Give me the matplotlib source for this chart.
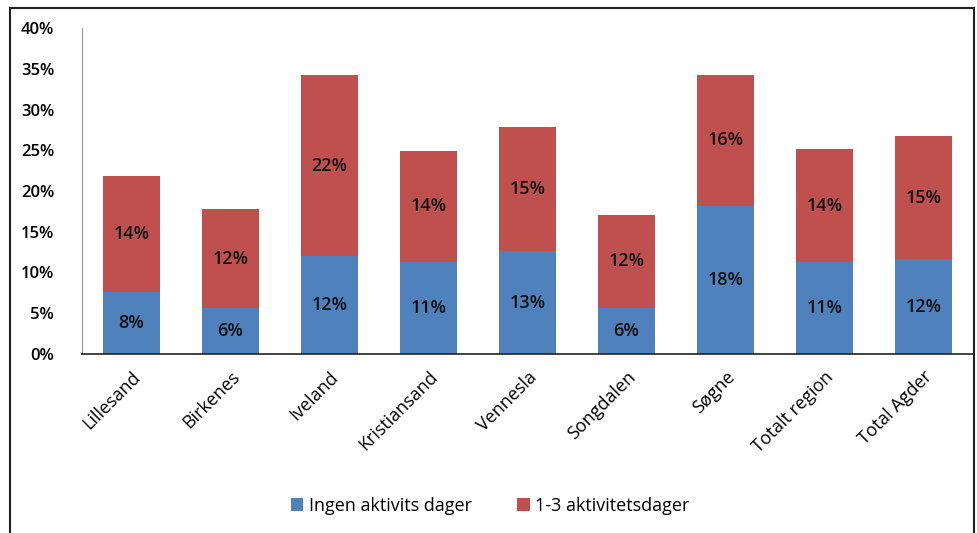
import matplotlib.pyplot as plt
from matplotlib.patches import Rectangle

# Data (andel i prosent)
kommuner = ['Lillesand', 'Birkenes', 'Iveland', 'Kristiansand', 'Vennesla',
            'Songdalen', 'Søgne', 'Totalt region', 'Total Agder']
ingen_dager = [7.6, 5.6, 12.0, 11.3, 12.6, 5.6, 18.2, 11.3, 11.6]
aktiv_1_3 = [14.3, 12.2, 22.2, 13.6, 15.3, 11.5, 16.0, 13.8, 15.1]
ticks_y = [0, 5, 10, 15, 20, 25, 30, 35, 40]

blaa = '#4F81BD'
roed = '#C0504D'

plt.rcParams['font.family'] = ['Open Sans', 'DejaVu Sans']

fig = plt.figure(figsize=(9.77, 5.33), dpi=100)
ax = fig.add_axes([82 / 977, 1 - 354 / 533, 891 / 977, 326 / 533])

x = range(len(kommuner))
b1 = ax.bar(x, ingen_dager, width=0.57, color=blaa, label='Ingen aktivits dager')
b2 = ax.bar(x, aktiv_1_3, width=0.57, bottom=ingen_dager, color=roed,
            label='1-3 aktivitetsdager')

for i in x:
    ax.text(i, ingen_dager[i] / 2, f'{round(ingen_dager[i])}%', ha='center',
            va='center', fontsize=13, fontweight='semibold', color='#111111')
    ax.text(i, ingen_dager[i] + aktiv_1_3[i] / 2, f'{round(aktiv_1_3[i])}%',
            ha='center', va='center', fontsize=13, fontweight='semibold',
            color='#111111')

ax.set_xlim(-0.5, len(kommuner) - 0.5)
ax.set_ylim(0, 40)
ax.set_yticks(ticks_y)
ax.set_yticklabels([f'{t}%' for t in ticks_y], fontsize=12, fontweight='semibold')
ax.tick_params(axis='y', length=0, pad=20)
ax.set_xticks(list(x))
ax.set_xticklabels(kommuner, rotation=45, ha='right', rotation_mode='anchor',
                   fontsize=13)
ax.tick_params(axis='x', length=0, pad=10)

ax.spines['top'].set_visible(False)
ax.spines['right'].set_visible(False)
ax.spines['left'].set_color('#999999')
ax.spines['bottom'].set_color('#222222')
ax.spines['bottom'].set_linewidth(1.2)

fig.legend(handles=[b1, b2], loc='center', bbox_to_anchor=(490 / 977, 1 - 506 / 533),
           ncol=2, frameon=False, fontsize=13, handlelength=0.7, handleheight=0.7,
           handletextpad=0.3, columnspacing=2.5)

# ramme rundt figuren
fig.patches.append(Rectangle((10 / 977, -0.02), 964 / 977, 1.02 - 8 / 533,
                             transform=fig.transFigure, fill=False,
                             edgecolor='#222222', linewidth=1.5))

fig.savefig('out.png', dpi=100)
